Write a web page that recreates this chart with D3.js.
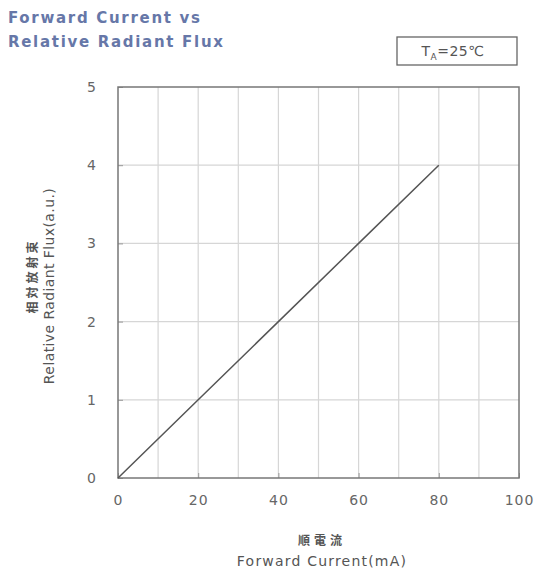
<!DOCTYPE html>
<html>
<head>
<meta charset="utf-8">
<script src="https://cdn.jsdelivr.net/npm/d3@7"></script>
<style>
body { margin: 0; background: #fff; }
text { font-family: "DejaVu Sans", Verdana, sans-serif; }
</style>
</head>
<body>
<div id="chart"></div>
<script>
// values
var current = [0, 20, 40, 60, 80];      // mA
var flux = [0, 1, 2, 3, 4];             // a.u.
var xTicks = [0, 20, 40, 60, 80, 100];
var yTicks = [0, 1, 2, 3, 4, 5];
var xGrid = [10, 20, 30, 40, 50, 60, 70, 80, 90];
var yGrid = [1, 2, 3, 4];

var W = 537, H = 573;
var pLeft = 118, pRight = 519, pTop = 87, pBottom = 478;

var svg = d3.select("#chart").append("svg")
    .attr("width", W).attr("height", H);

var x = d3.scaleLinear().domain([0, 100]).range([pLeft, pRight]);
var y = d3.scaleLinear().domain([0, 5]).range([pBottom, pTop]);

// title
var title = svg.append("text")
    .style("font-size", "15px").style("font-weight", "bold")
    .style("fill", "#6677a8").style("letter-spacing", "1.7px");
title.append("tspan").attr("x", 8).attr("y", 23).text("Forward Current vs");
title.append("tspan").attr("x", 8).attr("y", 47).text("Relative Radiant Flux");

// grid
svg.append("g").selectAll("line").data(xGrid).enter().append("line")
    .attr("x1", d => x(d)).attr("x2", d => x(d))
    .attr("y1", pTop).attr("y2", pBottom)
    .attr("stroke", "#d6d6d6").attr("stroke-width", 1.2);
svg.append("g").selectAll("line").data(yGrid).enter().append("line")
    .attr("x1", pLeft).attr("x2", pRight)
    .attr("y1", d => y(d)).attr("y2", d => y(d))
    .attr("stroke", "#d6d6d6").attr("stroke-width", 1.2);

// axes, ticks pointing inward
var xAxis = svg.append("g").attr("transform", "translate(0," + pBottom + ")")
    .call(d3.axisBottom(x).tickValues(xTicks).tickSize(-5).tickPadding(17));
var yAxis = svg.append("g").attr("transform", "translate(" + pLeft + ",0)")
    .call(d3.axisLeft(y).tickValues(yTicks).tickFormat(d3.format("d"))
        .tickSize(-5).tickPadding(21));
[xAxis, yAxis].forEach(function(a){
    a.select(".domain").remove();
    a.selectAll("line").attr("stroke", "#999");
    a.selectAll("text").style("font-family", "DejaVu Sans, sans-serif")
        .style("font-size", "14px").style("fill", "#666")
        .style("letter-spacing", "1px");
});

// frame
svg.append("rect")
    .attr("x", pLeft).attr("y", pTop)
    .attr("width", pRight - pLeft).attr("height", pBottom - pTop)
    .attr("fill", "none").attr("stroke", "#777").attr("stroke-width", 1.5);

// curve
var line = d3.line().x((d, i) => x(current[i])).y(d => y(d));
svg.append("path").datum(flux)
    .attr("d", line)
    .attr("fill", "none").attr("stroke", "#555").attr("stroke-width", 1.5);

// temperature box
svg.append("rect")
    .attr("x", 397).attr("y", 37).attr("width", 120).attr("height", 28)
    .attr("fill", "#fff").attr("stroke", "#666").attr("stroke-width", 1.3);
var ta = svg.append("text").attr("x", 453).attr("y", 56)
    .attr("text-anchor", "middle")
    .style("font-size", "14px").style("fill", "#555").style("letter-spacing", "0.5px");
ta.append("tspan").text("T");
ta.append("tspan").attr("dy", 4).style("font-size", "9px").text("A");
ta.append("tspan").attr("dy", -4).text("=25\u2103");

// axis labels
svg.append("text")
    .attr("transform", "translate(37,276) rotate(-90)")
    .attr("text-anchor", "middle")
    .style("font-family", "Noto Sans CJK JP, sans-serif")
    .style("font-size", "12px").style("font-weight", "bold").style("fill", "#555")
    .style("letter-spacing", "3px")
    .text("相対放射束");
svg.append("text")
    .attr("transform", "translate(54,286) rotate(-90)")
    .attr("text-anchor", "middle")
    .style("font-size", "14px").style("fill", "#555").style("letter-spacing", "0.4px")
    .text("Relative Radiant Flux(a.u.)");

svg.append("text")
    .attr("x", 322).attr("y", 545)
    .attr("text-anchor", "middle")
    .style("font-family", "Noto Sans CJK JP, sans-serif")
    .style("font-size", "12px").style("font-weight", "bold").style("fill", "#555")
    .style("letter-spacing", "4px")
    .text("順電流");
svg.append("text")
    .attr("x", 322).attr("y", 566)
    .attr("text-anchor", "middle")
    .style("font-size", "14px").style("fill", "#555").style("letter-spacing", "1.2px")
    .text("Forward Current(mA)");
</script>
</body>
</html>
